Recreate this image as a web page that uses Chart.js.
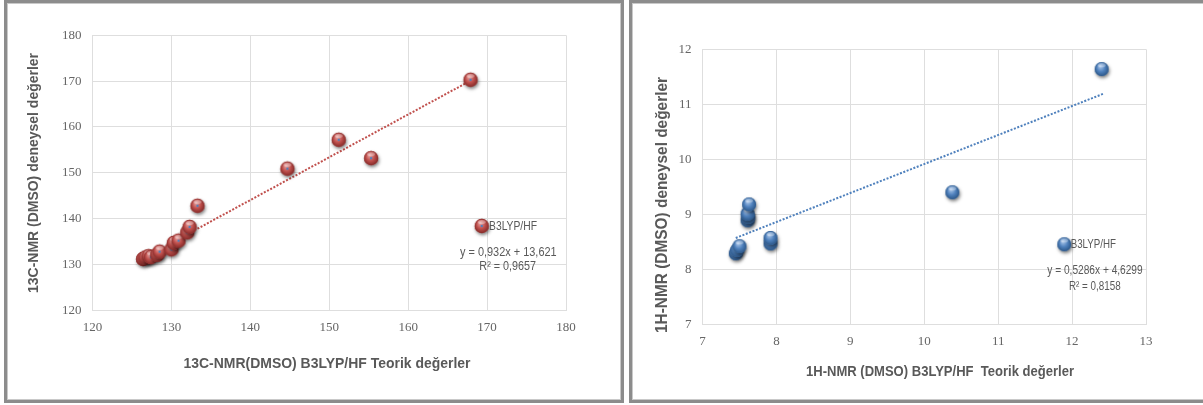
<!DOCTYPE html>
<html>
<head>
<meta charset="utf-8">
<script src="https://cdn.jsdelivr.net/npm/chart.js@4/dist/chart.umd.min.js"></script>
<style>
    body { margin: 0; background: #fff; }
    .panel { position: absolute; box-sizing: border-box; border: 3px solid #8c8c8c; box-shadow: inset 0 0 0 1px #c9c9c9; background: #fff; }
    canvas { position: absolute; }
</style>
</head>
<body>
<div class="panel" style="left:4px; top:0; width:620px; height:403px;"></div>
<div class="panel" style="left:629px; top:0; width:600px; height:403px;"></div>
<canvas id="c13Chart" width="613" height="397" style="left:7px; top:3px;"></canvas>
<canvas id="h1Chart" width="571" height="397" style="left:632px; top:3px;"></canvas>

<script>
// 13C-NMR: theoretical (B3LYP/HF) vs experimental shifts
const c13Theory = [126.4, 126.7, 127.1, 127.4, 128.2, 128.5, 130.0, 130.3, 130.9, 132.0, 132.3, 133.3, 144.7, 151.2, 155.3, 167.9];
const c13Exp    = [131.2, 131.5, 131.8, 131.6, 132.1, 132.8, 133.3, 134.7, 135.2, 137.0, 138.2, 142.8, 150.9, 157.2, 153.2, 170.3];
const c13TrendX = [133.3, 167.9];
const c13TrendY = [137.8, 170.1];
const c13Ticks  = [120, 130, 140, 150, 160, 170, 180];

// 1H-NMR
const h1Theory = [7.45, 7.47, 7.50, 7.61, 7.62, 7.61, 7.63, 7.92, 7.92, 10.38, 12.40];
const h1Exp    = [8.29, 8.35, 8.42, 8.89, 8.95, 9.01, 9.18, 8.47, 8.57, 9.40, 11.64];
const h1TrendX = [7.45, 12.42];
const h1TrendY = [8.57, 11.19];
const h1TicksX = [7, 8, 9, 10, 11, 12, 13];
const h1TicksY = [7, 8, 9, 10, 11, 12];

const seriesName = 'B3LYP/HF';
const c13Equation = ['y = 0,932x + 13,621', 'R² = 0,9657'];
const h1Equation  = ['y = 0,5286x + 4,6299', 'R² = 0,8158'];

const textGray = '#595959';
const gridGray = '#dedede';

function toPoints(xs, ys) {
    return xs.map((x, i) => ({ x: x, y: ys[i] }));
}

// glossy ball used as the point marker
function makeBall(base, light, dark, r, dot) {
    const size = 26;
    const cv = document.createElement('canvas');
    cv.width = size;
    cv.height = size;
    const ctx = cv.getContext('2d');
    const c = size / 2;
    ctx.save();
    ctx.shadowColor = 'rgba(0,0,0,0.5)';
    ctx.shadowBlur = 3.5;
    ctx.shadowOffsetX = 1;
    ctx.shadowOffsetY = 2;
    ctx.beginPath();
    ctx.arc(c, c, r, 0, Math.PI * 2);
    ctx.fillStyle = base;
    ctx.fill();
    ctx.restore();
    const g = ctx.createRadialGradient(c - r * 0.25, c - r * 0.45, 0, c, c, r * 1.05);
    g.addColorStop(0, light);
    g.addColorStop(0.55, base);
    g.addColorStop(1, dark);
    ctx.beginPath();
    ctx.arc(c, c, r, 0, Math.PI * 2);
    ctx.fillStyle = g;
    ctx.fill();
    // top highlight
    ctx.beginPath();
    ctx.ellipse(c, c - r * 0.55, r * 0.55, r * 0.3, 0, 0, Math.PI * 2);
    ctx.fillStyle = 'rgba(255,255,255,0.35)';
    ctx.fill();
    if (dot) {
        ctx.beginPath();
        ctx.arc(c, c, 1.2, 0, Math.PI * 2);
        ctx.fillStyle = dot;
        ctx.fill();
    }
    return cv;
}

const redBall = makeBall('#c0504d', '#eba9a7', '#7e2624', 7.2, '#4f81bd');
const blueBall = makeBall('#4f81bd', '#b3cdee', '#2a5484', 7, null);

// draw text squeezed/stretched to a given width
function fitText(ctx, text, x, y, width, font, align, rotate) {
    ctx.save();
    ctx.font = font;
    ctx.fillStyle = textGray;
    ctx.textBaseline = 'middle';
    ctx.textAlign = align;
    const w = ctx.measureText(text).width;
    ctx.translate(x, y);
    if (rotate) ctx.rotate(-Math.PI / 2);
    ctx.scale(width / w, 1);
    ctx.fillText(text, 0, 0);
    ctx.restore();
}

function makeChart(id, cfg) {
    const textPlugin = {
        id: 'texts',
        afterDraw(chart) {
            const ctx = chart.ctx;
            const t = cfg.texts;
            const titleFont = 'bold 15px "Liberation Sans", Arial, sans-serif';
            const smallFont = '13px "Liberation Sans", Arial, sans-serif';
            fitText(ctx, t.yTitle, t.yTitlePos[0], t.yTitlePos[1], t.yTitlePos[2], t.yTitleFont || titleFont, 'center', true);
            fitText(ctx, t.xTitle, t.xTitlePos[0], t.xTitlePos[1], t.xTitlePos[2], titleFont, 'center', false);
            // legend
            const ball = cfg.ball;
            ctx.drawImage(ball, t.legend[0] - ball.width / 2, t.legend[1] - ball.height / 2);
            fitText(ctx, seriesName, t.legend[2], t.legend[1], t.legend[3], smallFont, 'left', false);
            // trendline equation
            fitText(ctx, t.eq[0], t.eqPos[0], t.eqPos[1], t.eqPos[2], smallFont, 'center', false);
            fitText(ctx, t.eq[1], t.r2Pos[0], t.r2Pos[1], t.r2Pos[2], smallFont, 'center', false);
        }
    };

    const tickFont = { family: '"Liberation Serif", "DejaVu Serif", serif', size: 13 };

    return new Chart(document.getElementById(id), {
        type: 'scatter',
        data: {
            datasets: [
                {
                    label: seriesName,
                    data: toPoints(cfg.xs, cfg.ys),
                    pointStyle: cfg.ball,
                    pointRadius: 7,
                    pointHoverRadius: 7
                },
                {
                    label: 'trend',
                    data: toPoints(cfg.trendX, cfg.trendY),
                    showLine: true,
                    pointRadius: 0,
                    borderColor: cfg.trendColor,
                    borderWidth: 2,
                    borderDash: [2, 1.6]
                }
            ]
        },
        options: {
            responsive: false,
            animation: false,
            layout: { padding: cfg.padding },
            plugins: {
                legend: { display: false },
                tooltip: { enabled: false }
            },
            scales: {
                x: {
                    type: 'linear',
                    min: cfg.ticksX[0],
                    max: cfg.ticksX[cfg.ticksX.length - 1],
                    ticks: { stepSize: cfg.ticksX[1] - cfg.ticksX[0], color: '#666', font: tickFont, padding: 9, maxRotation: 0 },
                    grid: { color: gridGray, drawTicks: false },
                    border: { color: gridGray },
                    afterFit(scale) { scale.height = cfg.xHeight; }
                },
                y: {
                    type: 'linear',
                    min: cfg.ticksY[0],
                    max: cfg.ticksY[cfg.ticksY.length - 1],
                    ticks: { stepSize: cfg.ticksY[1] - cfg.ticksY[0], color: '#666', font: tickFont, padding: 11 },
                    grid: { color: gridGray, drawTicks: false },
                    border: { color: gridGray },
                    afterFit(scale) { scale.width = cfg.yWidth; }
                }
            }
        },
        plugins: [textPlugin]
    });
}

makeChart('c13Chart', {
    xs: c13Theory, ys: c13Exp,
    trendX: c13TrendX, trendY: c13TrendY,
    ticksX: c13Ticks, ticksY: c13Ticks,
    ball: redBall,
    trendColor: '#c0504d',
    padding: { top: 32.3, right: 54, left: 0, bottom: 0 },
    yWidth: 85.5,
    xHeight: 89.7,
    texts: {
        yTitle: '13C-NMR (DMSO) deneysel değerler',
        yTitlePos: [26.5, 170, 240],
        xTitle: '13C-NMR(DMSO) B3LYP/HF Teorik değerler',
        xTitlePos: [320, 361, 287],
        legend: [474.7, 223, 482, 48],
        eq: c13Equation,
        eqPos: [501.3, 249.7, 96.7],
        r2Pos: [500.7, 263.7, 56.7]
    }
});

makeChart('h1Chart', {
    xs: h1Theory, ys: h1Exp,
    trendX: h1TrendX, trendY: h1TrendY,
    ticksX: h1TicksX, ticksY: h1TicksY,
    ball: blueBall,
    trendColor: '#4f81bd',
    padding: { top: 46.3, right: 57, left: 0, bottom: 0 },
    yWidth: 70.5,
    xHeight: 75.7,
    texts: {
        yTitle: '1H-NMR (DMSO) deneysel değerler',
        yTitlePos: [30.5, 202, 256],
        yTitleFont: 'bold 16px "Liberation Sans", Arial, sans-serif',
        xTitle: '1H-NMR (DMSO) B3LYP/HF  Teorik değerler',
        xTitlePos: [308, 369, 268],
        legend: [432.3, 241.3, 438.7, 45.3],
        eq: h1Equation,
        eqPos: [463, 267, 95.3],
        r2Pos: [462.8, 283.7, 51.7]
    }
});
</script>
</body>
</html>
